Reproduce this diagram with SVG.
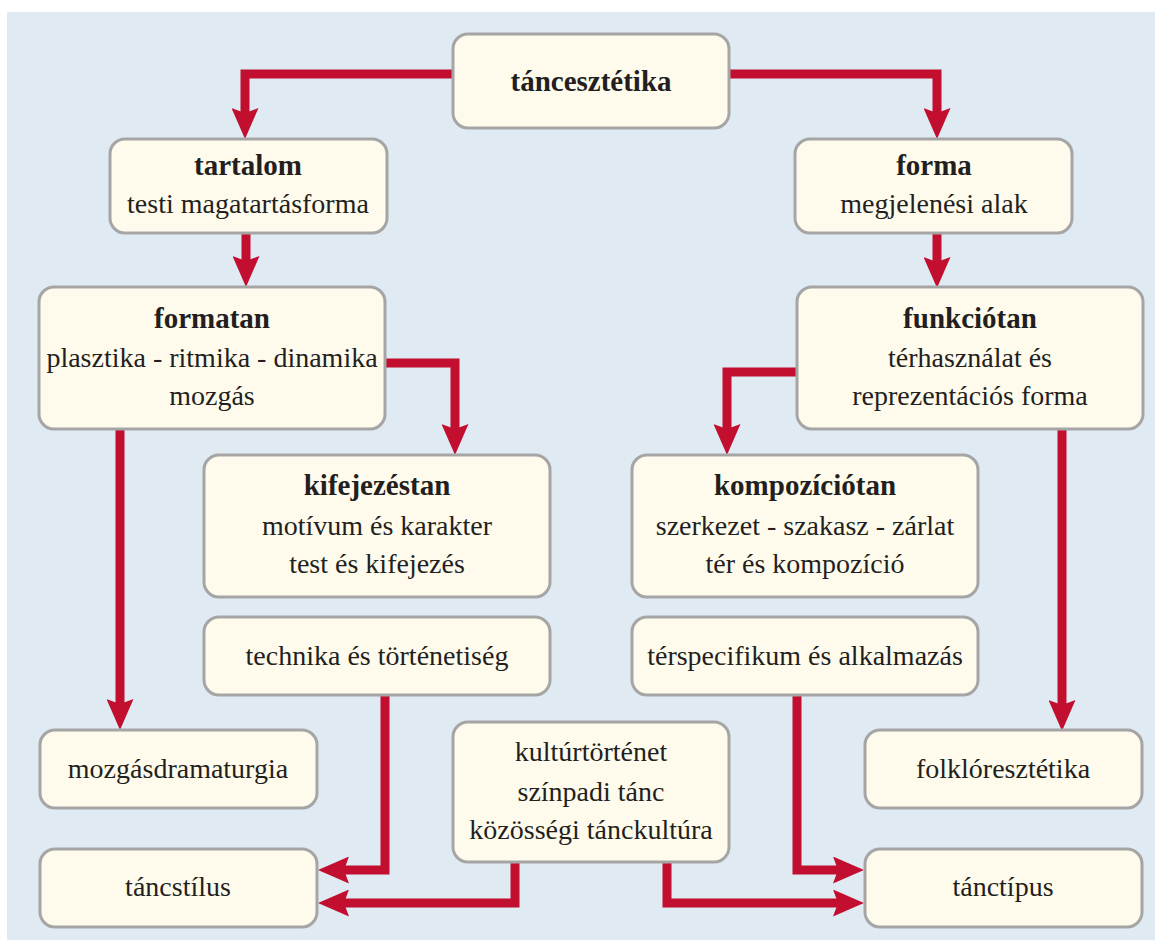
<svg xmlns="http://www.w3.org/2000/svg" width="1155" height="940" viewBox="0 0 1155 940">
<style>
.box{fill:#fefbec;stroke:#a5a5a5;stroke-width:3}
.t{font-family:'Liberation Serif','DejaVu Serif',serif;font-size:28px;fill:#231f20;text-anchor:middle}
.b{font-weight:bold;font-size:29px}
.c{fill:none;stroke:#c20f2f;stroke-width:9;stroke-linejoin:miter;stroke-linecap:butt}
</style>
<defs>
<marker id="ah" viewBox="0 0 31 27" markerWidth="31" markerHeight="27" markerUnits="userSpaceOnUse" refX="5" refY="13.5" orient="auto">
<path d="M0,0 L31,13.5 L0,27 L5,13.5 z" fill="#c20f2f"/>
</marker>
</defs>
<rect x="0" y="0" width="1155" height="940" fill="#ffffff"/>
<rect x="7" y="12" width="1148" height="928" fill="#dfeaf2"/>

<g id="connectors">
<path class="c" d="M453,74 H245 V113" marker-end="url(#ah)"/>
<path class="c" d="M729,74 H937 V113" marker-end="url(#ah)"/>
<path class="c" d="M246,233 V261" marker-end="url(#ah)"/>
<path class="c" d="M937,233 V262" marker-end="url(#ah)"/>
<path class="c" d="M385,363 H455 V429" marker-end="url(#ah)"/>
<path class="c" d="M797,372 H727 V429" marker-end="url(#ah)"/>
<path class="c" d="M120,429 V704" marker-end="url(#ah)"/>
<path class="c" d="M1062,428 V705" marker-end="url(#ah)"/>
<path class="c" d="M385,695 V870 H344" marker-end="url(#ah)"/>
<path class="c" d="M515,862 V903 H344" marker-end="url(#ah)"/>
<path class="c" d="M797,695 V870 H838" marker-end="url(#ah)"/>
<path class="c" d="M667,862 V903 H838" marker-end="url(#ah)"/>
</g>

<g id="tancesztetika">
<rect class="box" x="453" y="34" width="276" height="94" rx="15"/>
<text class="t b" x="591" y="91">táncesztétika</text>
</g>
<g id="tartalom">
<rect class="box" x="110" y="139" width="277" height="94" rx="15"/>
<text class="t b" x="248" y="175">tartalom</text>
<text class="t" x="248" y="213">testi magatartásforma</text>
</g>
<g id="forma">
<rect class="box" x="795" y="139" width="277" height="94" rx="15"/>
<text class="t b" x="934" y="175">forma</text>
<text class="t" x="934" y="213">megjelenési alak</text>
</g>
<g id="formatan">
<rect class="box" x="39" y="287" width="346" height="142" rx="15"/>
<text class="t b" x="212" y="328">formatan</text>
<text class="t" x="212" y="367">plasztika - ritmika - dinamika</text>
<text class="t" x="212" y="405">mozgás</text>
</g>
<g id="funkciotan">
<rect class="box" x="797" y="287" width="346" height="142" rx="15"/>
<text class="t b" x="970" y="328">funkciótan</text>
<text class="t" x="970" y="367">térhasználat és</text>
<text class="t" x="970" y="405">reprezentációs forma</text>
</g>
<g id="kifejezestan">
<rect class="box" x="204" y="455" width="346" height="142" rx="15"/>
<text class="t b" x="377" y="495">kifejezéstan</text>
<text class="t" x="377" y="535">motívum és karakter</text>
<text class="t" x="377" y="573">test és kifejezés</text>
</g>
<g id="kompoziciotan">
<rect class="box" x="632" y="455" width="346" height="142" rx="15"/>
<text class="t b" x="805" y="495">kompozíciótan</text>
<text class="t" x="805" y="535">szerkezet - szakasz - zárlat</text>
<text class="t" x="805" y="573">tér és kompozíció</text>
</g>
<g id="technika">
<rect class="box" x="204" y="617" width="346" height="78" rx="15"/>
<text class="t" x="377" y="665">technika és történetiség</text>
</g>
<g id="terspecifikum">
<rect class="box" x="632" y="617" width="346" height="78" rx="15"/>
<text class="t" x="805" y="665">térspecifikum és alkalmazás</text>
</g>
<g id="mozgasdramaturgia">
<rect class="box" x="40" y="730" width="277" height="78" rx="15"/>
<text class="t" x="178" y="778">mozgásdramaturgia</text>
</g>
<g id="kulturtortenet">
<rect class="box" x="453" y="722" width="276" height="140" rx="15"/>
<text class="t" x="591" y="761">kultúrtörténet</text>
<text class="t" x="591" y="801">színpadi tánc</text>
<text class="t" x="591" y="839">közösségi tánckultúra</text>
</g>
<g id="folkloresztetika">
<rect class="box" x="865" y="730" width="277" height="78" rx="15"/>
<text class="t" x="1003" y="778">folklóresztétika</text>
</g>
<g id="tancstilus">
<rect class="box" x="40" y="849" width="277" height="78" rx="15"/>
<text class="t" x="178" y="896">táncstílus</text>
</g>
<g id="tanctipus">
<rect class="box" x="865" y="849" width="277" height="78" rx="15"/>
<text class="t" x="1003" y="896">tánctípus</text>
</g>
</svg>
